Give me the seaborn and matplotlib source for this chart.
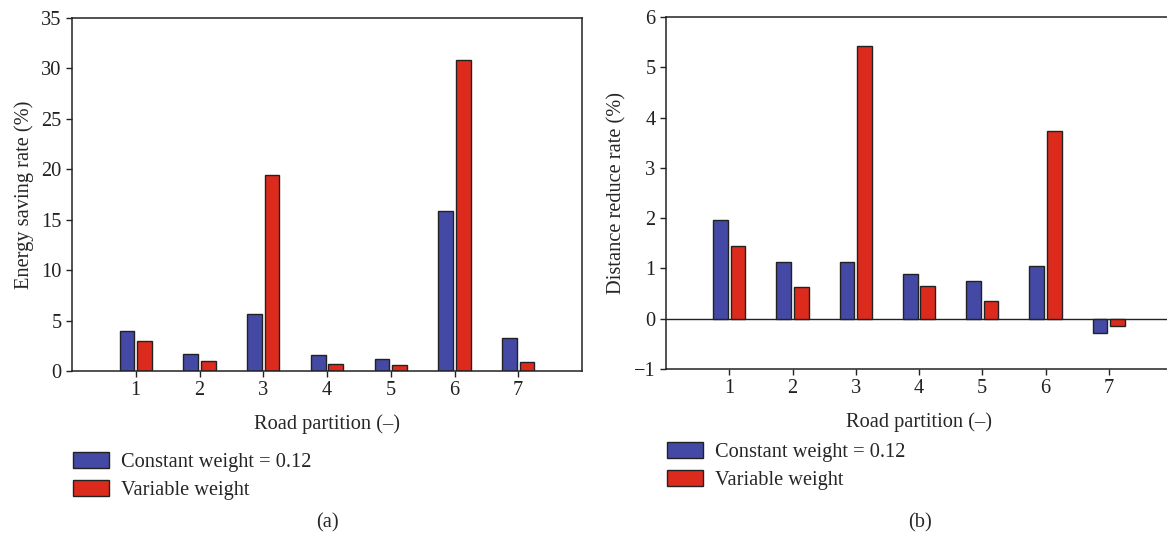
import numpy as np
import pandas as pd
import seaborn as sns
import matplotlib.pyplot as plt

# Road partitions and the two weighting schemes
partitions = [1, 2, 3, 4, 5, 6, 7]
methods = ['Constant weight = 0.12', 'Variable weight']

# (a) energy saving rate (%)
energy_const = [4.0, 1.7, 5.7, 1.6, 1.2, 15.9, 3.3]
energy_var = [3.0, 1.0, 19.4, 0.7, 0.6, 30.8, 0.9]

# (b) distance reduce rate (%)
dist_const = [1.96, 1.12, 1.12, 0.88, 0.75, 1.05, -0.28]
dist_var = [1.45, 0.63, 5.42, 0.65, 0.36, 3.73, -0.14]

method_colors = {methods[0]: '#4349A4', methods[1]: '#DC2A1D'}

fs = 14.7


def long_df(const, var):
    return pd.DataFrame({
        'Partition': partitions * 2,
        'Method': [methods[0]] * len(partitions) + [methods[1]] * len(partitions),
        'Value': const + var,
    })


sns.set_style('ticks')
plt.rcParams['font.family'] = ['Liberation Serif', 'DejaVu Serif']
plt.rcParams['xtick.direction'] = 'out'
plt.rcParams['ytick.direction'] = 'out'

fig = plt.figure(figsize=(11.67, 5.39), dpi=100)
W, H = 1167, 539

# axes positions in pixels: left, top, right, bottom
ax1 = fig.add_axes([72 / W, 1 - 371 / H, 510 / W, 353 / H])
ax2 = fig.add_axes([666 / W, 1 - 369 / H, 506 / W, 352 / H])

panels = [
    (ax1, long_df(energy_const, energy_var), 'Energy saving rate (%)', (0, 35), np.arange(0, 36, 5), '(a)', 73, 452),
    (ax2, long_df(dist_const, dist_var), 'Distance reduce rate (%)', (-1, 6), np.arange(-1, 7, 1), '(b)', 667, 442),
]

for ax, df, ylabel, ylim, yticks, caption, leg_x, leg_y in panels:
    sns.barplot(data=df, x='Partition', y='Value', hue='Method', native_scale=True,
                palette=method_colors, width=0.55, gap=0.15, saturation=1,
                edgecolor='#222222', linewidth=1.0, ax=ax)
    ax.set_xlim(0, 8)
    ax.set_ylim(*ylim)
    ax.set_xticks(partitions)
    ax.set_yticks(yticks)
    ax.set_yticklabels([str(t).replace('-', '\u2212') for t in yticks])
    ax.tick_params(labelsize=fs, length=4, width=1, colors='#222222')
    ax.set_xlabel('Road partition (\u2013)', fontsize=fs, labelpad=10)
    ax.set_ylabel(ylabel, fontsize=fs, labelpad=5)
    for s in ax.spines.values():
        s.set_linewidth(1.1)
        s.set_color('#222222')
    if ylim[0] < 0:
        ax.axhline(0, color='#222222', linewidth=1.0, zorder=0)

    handles, labels = ax.get_legend_handles_labels()
    ax.get_legend().remove()
    fig.legend(handles, labels, loc='upper left',
               bbox_to_anchor=(leg_x / W, 1 - leg_y / H),
               frameon=False, fontsize=fs, handlelength=1.75, handleheight=0.8,
               handletextpad=0.6, labelspacing=0.4, borderpad=0, borderaxespad=0)

    cx = (72 + 582) / 2 if ax is ax1 else 920
    fig.text(cx / W, 1 - 523 / H, caption, ha='center', va='center', fontsize=fs)

fig.savefig('out.png', dpi=100)
